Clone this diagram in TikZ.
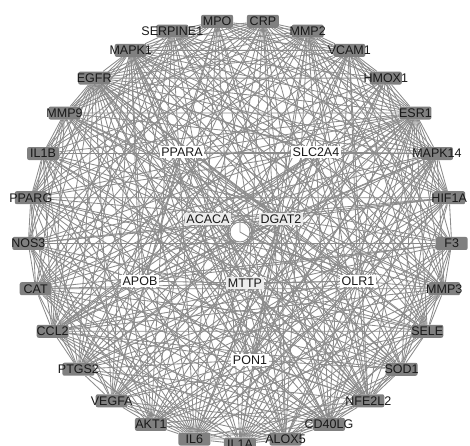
\documentclass[tikz,border=0pt]{standalone}
\usepackage{fontspec}
\setmainfont{Liberation Sans}
\usepackage{tikz}
\usetikzlibrary{backgrounds, calc}
\usepackage{xcolor}
\definecolor{cEdge}{RGB}{140,140,140}
\definecolor{cNode}{RGB}{128,128,128}
\definecolor{cText}{RGB}{25,25,25}
\definecolor{cPale}{RGB}{236,236,236}
\tikzset{
  genebox/.style={rectangle, rounded corners=2pt, fill=cNode,
                  minimum width=32pt, minimum height=13pt, inner sep=0pt,
                  font=\fontsize{12.5}{14}\selectfont, text=cText},
  corebox/.style={rectangle, fill=white, inner sep=1.5pt,
                  font=\fontsize{12.5}{14}\selectfont, text=cText},
  palebox/.style={corebox, fill=cPale},
  link/.style={draw=cEdge, line width=0.85pt},
  hubring/.style={circle, draw=cEdge, fill=white, line width=0.9pt,
                  minimum size=20pt, inner sep=0pt}
}

\begin{document}
\begin{tikzpicture}[x=1pt, y=1pt]
  \useasboundingbox (0,0) rectangle (470,-445);
  \coordinate (c) at (240,-232);

  % outer ring, clockwise from CRP
  \foreach \name [count=\i] in {CRP, MMP2, VCAM1, HMOX1, ESR1, MAPK14, HIF1A,
      F3, MMP3, SELE, SOD1, NFE2L2, CD40LG, ALOX5, IL1A, IL6, AKT1, VEGFA,
      PTGS2, CCL2, CAT, NOS3, PPARG, IL1B, MMP9, EGFR, MAPK1, SERPINE1, MPO}
    \node[genebox] (o\i) at ($(c)+({83.79-(\i-1)*360/29}:212)$)
      {\makebox[0pt]{\name}};

  % inner genes
  \node[corebox] (n1) at (182,-152) {PPARA};
  \node[corebox] (n2) at (316,-152) {SLC2A4};
  \node[palebox] (n3) at (208,-219) {ACACA};
  \node[palebox] (n4) at (281,-219) {DGAT2};
  \node[corebox] (n5) at (140,-281) {APOB};
  \node[palebox] (n6) at (245,-283) {MTTP};
  \node[corebox] (n7) at (358,-281) {OLR1};
  \node[corebox] (n8) at (250,-360) {PON1};

  \begin{pgfonlayer}{background}
    \foreach \i in {1,...,28} {
      \pgfmathtruncatemacro\ii{\i+1}
      \foreach \j in {\ii,...,29} {
        \pgfmathtruncatemacro\k{mod(3*\i*\i+5*\j*\j+7*\i*\j+\i+\j,11)}
        \ifnum\k<8 \draw[link] (o\i) -- (o\j); \fi
      }
    }
    \foreach \i in {1,...,8}
      \foreach \j in {1,...,29} {
        \pgfmathtruncatemacro\k{mod(5*\i*\i+3*\j*\j+11*\i*\j+\j,7)}
        \ifnum\k<4 \draw[link] (n\i) -- (o\j); \fi
      }
    \foreach \from/\to in {n1/n4, n1/n6, n2/n3, n2/n5, n3/n8, n4/n5,
                           n5/n6, n6/n7, n7/n1, n8/n2, n3/n7, n4/n8}
      \draw[link] (\from) -- (\to);
  \end{pgfonlayer}

  \node[hubring] (hub) at (c) {};
  \draw[link] (hub.north) -- (hub.center) -- (hub.-30);
\end{tikzpicture}
\end{document}
